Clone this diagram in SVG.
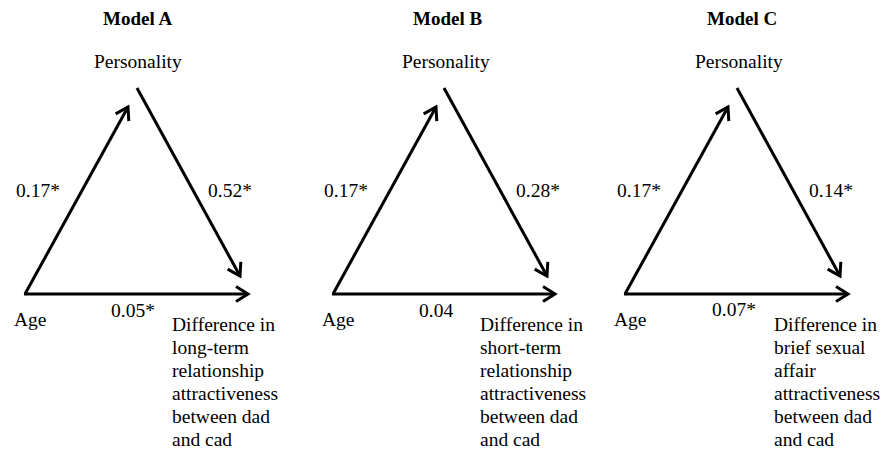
<svg xmlns="http://www.w3.org/2000/svg" width="882" height="450" viewBox="0 0 882 450">
  <style>
    text { font-family: 'Liberation Serif', 'DejaVu Serif', serif; fill: #000; font-size: 19.5px; }
    .title { font-weight: bold; font-size: 19px; }
    .edge { stroke: #000; stroke-width: 3; fill: none; marker-end: url(#arr); }
  </style>
  <defs>
    <marker id="arr" markerUnits="userSpaceOnUse" markerWidth="20" markerHeight="20" viewBox="-16 -10 20 20" refX="0" refY="0" orient="auto">
      <path d="M -12 -7.5 L 0 0 L -12 7.5" fill="none" stroke="#000" stroke-width="3" stroke-linejoin="miter"/>
    </marker>
  </defs>
  <rect width="882" height="450" fill="#fff"/>

  <g id="modelA">
    <text class="title" x="103" y="25">Model A</text>
    <g id="A-personality"><text x="94" y="68">Personality</text></g>
    <g id="A-age"><text x="14" y="326">Age</text></g>
    <g id="A-outcome">
      <text x="172" y="331">Difference in</text>
      <text x="172" y="354">long-term</text>
      <text x="172" y="377">relationship</text>
      <text x="172" y="400">attractiveness</text>
      <text x="172" y="423">between dad</text>
      <text x="172" y="446">and cad</text>
    </g>
    <g id="A-connectors">
      <line class="edge" x1="25" y1="294" x2="128" y2="107"/>
      <line class="edge" x1="137" y1="88" x2="240" y2="276"/>
      <line class="edge" x1="24" y1="294" x2="248" y2="294"/>
      <text x="16" y="197">0.17*</text>
      <text x="208" y="197">0.52*</text>
      <text x="111" y="317">0.05*</text>
    </g>
  </g>

  <g id="modelB">
    <text class="title" x="413" y="25">Model B</text>
    <g id="B-personality"><text x="402" y="68">Personality</text></g>
    <g id="B-age"><text x="322" y="326">Age</text></g>
    <g id="B-outcome">
      <text x="480" y="331">Difference in</text>
      <text x="480" y="354">short-term</text>
      <text x="480" y="377">relationship</text>
      <text x="480" y="400">attractiveness</text>
      <text x="480" y="423">between dad</text>
      <text x="480" y="446">and cad</text>
    </g>
    <g id="B-connectors">
      <line class="edge" x1="333" y1="294" x2="436" y2="107"/>
      <line class="edge" x1="444" y1="88" x2="547" y2="276"/>
      <line class="edge" x1="332" y1="294" x2="555" y2="294"/>
      <text x="324" y="197">0.17*</text>
      <text x="516" y="197">0.28*</text>
      <text x="419" y="317">0.04</text>
    </g>
  </g>

  <g id="modelC">
    <text class="title" x="707" y="25">Model C</text>
    <g id="C-personality"><text x="695" y="68">Personality</text></g>
    <g id="C-age"><text x="614" y="326">Age</text></g>
    <g id="C-outcome">
      <text x="774" y="331">Difference in</text>
      <text x="774" y="354">brief sexual</text>
      <text x="774" y="377">affair</text>
      <text x="774" y="400">attractiveness</text>
      <text x="774" y="423">between dad</text>
      <text x="774" y="446">and cad</text>
    </g>
    <g id="C-connectors">
      <line class="edge" x1="625" y1="294" x2="728" y2="107"/>
      <line class="edge" x1="737" y1="88" x2="840" y2="276"/>
      <line class="edge" x1="624" y1="294" x2="848" y2="294"/>
      <text x="617" y="197">0.17*</text>
      <text x="809" y="197">0.14*</text>
      <text x="712" y="316">0.07*</text>
    </g>
  </g>
</svg>
